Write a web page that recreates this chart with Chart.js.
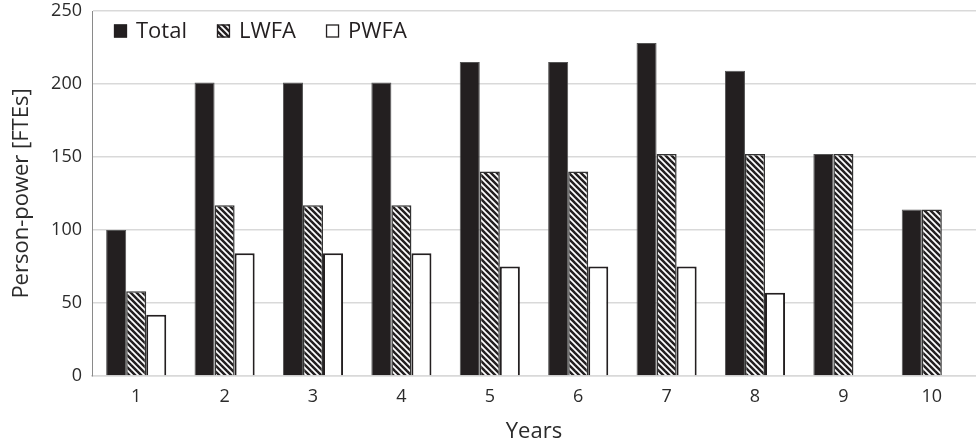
<!DOCTYPE html>
<html>
<head>
<meta charset="utf-8">
<script src="https://cdn.jsdelivr.net/npm/chart.js@4"></script>
<style>
html,body{margin:0;padding:0;background:#fff;}
#wrap{width:976px;height:445px;position:relative;}
</style>
</head>
<body>
<div id="wrap"><canvas id="c" width="976" height="445"></canvas></div>
<script>
const categories = ['1','2','3','4','5','6','7','8','9','10'];
const totalValues = [100, 201, 201, 201, 215, 215, 228, 209, 152, 114];
const lwfaValues  = [58, 117, 117, 117, 140, 140, 152, 152, 152, 114];
const pwfaValues  = [42, 84, 84, 84, 75, 75, 75, 57, 0, 0];
const seriesNames = ['Total', 'LWFA', 'PWFA'];
const yTicks = [0, 50, 100, 150, 200, 250];

const FONT = "'Open Sans', 'Noto Sans', sans-serif";
const INK = '#231f20';
const TXT = '#2b2b2b';

function hatch() {
  const s = 6;
  const cv = document.createElement('canvas');
  cv.width = s; cv.height = s;
  const g = cv.getContext('2d');
  g.fillStyle = '#fff';
  g.fillRect(0, 0, s, s);
  g.strokeStyle = INK;
  g.lineWidth = 2.5;
  g.lineCap = 'square';
  for (let k = -1; k <= 1; k++) {
    g.beginPath();
    g.moveTo(k * s, 0);
    g.lineTo(k * s + s, s);
    g.stroke();
  }
  return g.createPattern(cv, 'repeat');
}
const hatchPattern = hatch();

const fills = [INK, hatchPattern, '#ffffff'];
const borders = ['#555', '#333', INK];
const borderW = [1, 1.5, 2];

const legendPlugin = {
  id: 'insideLegend',
  afterDraw(chart) {
    const ctx = chart.ctx;
    ctx.save();
    ctx.font = "22px " + FONT;
    ctx.textBaseline = 'middle';
    let x = chart.chartArea.left + 22;
    const cy = 31;
    const box = 13;
    chart.data.datasets.forEach((ds, i) => {
      ctx.fillStyle = fills[i];
      ctx.fillRect(x, cy - box / 2, box, box);
      ctx.strokeStyle = INK;
      ctx.lineWidth = 1.3;
      ctx.strokeRect(x + 0.5, cy - box / 2 + 0.5, box - 1, box - 1);
      x += box + 9;
      ctx.fillStyle = INK;
      ctx.fillText(ds.label, x, cy + 1);
      x += ctx.measureText(ds.label).width + 30;
    });
    ctx.restore();
  }
};

new Chart(document.getElementById('c'), {
  type: 'bar',
  data: {
    labels: categories,
    datasets: [
      { label: seriesNames[0], data: totalValues, backgroundColor: fills[0], borderColor: borders[0], borderWidth: borderW[0] },
      { label: seriesNames[1], data: lwfaValues, backgroundColor: fills[1], borderColor: borders[1], borderWidth: borderW[1] },
      { label: seriesNames[2], data: pwfaValues, backgroundColor: fills[2], borderColor: borders[2], borderWidth: borderW[2] }
    ]
  },
  options: {
    responsive: false,
    animation: false,
    devicePixelRatio: 1,
    layout: { padding: { top: 11, right: 0, left: 0, bottom: 0 } },
    datasets: { bar: { categoryPercentage: 0.68, barPercentage: 1.0 } },
    plugins: { legend: { display: false }, tooltip: { enabled: false } },
    scales: {
      x: {
        grid: { display: false, drawTicks: false },
        border: { color: '#d9d9d9', width: 1.5 },
        ticks: { color: TXT, font: { family: FONT, size: 18 }, padding: 10 },
        title: { display: true, text: 'Years', color: TXT, font: { family: FONT, size: 22 }, padding: { top: 2, bottom: 0 } },
        afterFit: s => { s.height = 69; s.paddingLeft = 0; s.paddingRight = 0; }
      },
      y: {
        min: 0, max: 250,
        afterBuildTicks: s => { s.ticks = yTicks.map(v => ({ value: v })); },
        grid: { color: '#d9d9d9', lineWidth: 1.5, drawTicks: false },
        border: { color: '#8a8a8a', width: 1 },
        ticks: { color: TXT, font: { family: FONT, size: 18 }, padding: 10 },
        title: { display: true, text: 'Person-power [FTEs]', color: TXT, font: { family: FONT, size: 22 }, padding: { top: 9, bottom: 0 } },
        afterFit: s => { s.width = 92; s.paddingTop = 0; s.paddingBottom = 0; }
      }
    }
  },
  plugins: [legendPlugin]
});
</script>
</body>
</html>
